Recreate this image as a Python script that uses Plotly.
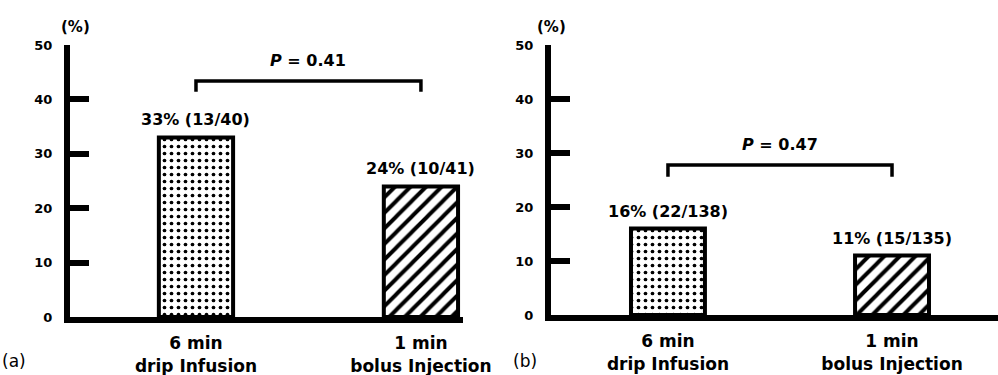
import plotly.graph_objects as go

# ---- data ----
categories = ["6 min<br>drip Infusion", "1 min<br>bolus Injection"]
rates_a = [33, 24]
labels_a = ["33% (13/40)", "24% (10/41)"]
p_text_a = "P = 0.41"
rates_b = [16, 11]
labels_b = ["16% (22/138)", "11% (15/135)"]
p_text_b = "P = 0.47"
y_ticks = [0, 10, 20, 30, 40, 50]
panel_tags = ["(a)", "(b)"]

FONT = "DejaVu Sans, Verdana, sans-serif"
W, H = 998, 375

fig = go.Figure()

patterns = [dict(shape=".", size=7, solidity=0.22, fgcolor="black", bgcolor="white", fgopacity=1),
            dict(shape="/", size=11, solidity=0.36, fgcolor="black", bgcolor="white", fgopacity=1)]

xpos = [0, 1]

for k, (rates, xa, ya) in enumerate([(rates_a, "x", "y"), (rates_b, "x2", "y2")]):
    for i in range(2):
        fig.add_trace(go.Bar(
            x=[xpos[i]], y=[rates[i]], xaxis=xa, yaxis=ya, width=0.33,
            marker=dict(color="white", line=dict(color="black", width=4),
                        pattern=patterns[i]),
            showlegend=False, hoverinfo="skip"))

axis_common_y = dict(range=[0, 50], tickvals=y_ticks, ticks="inside", ticklen=19,
                     tickwidth=6, tickcolor="black", showline=True, linewidth=6,
                     linecolor="black", showgrid=False, zeroline=False, automargin=False,
                     tickfont=dict(family=FONT, size=13, color="black", weight="bold"),
                     ticklabelstandoff=9)
axis_common_x = dict(tickvals=xpos, ticktext=categories, ticks="", showline=True,
                     linewidth=6, linecolor="black", showgrid=False, zeroline=False,
                     automargin=False,
                     tickfont=dict(family=FONT, size=17, color="black", weight="bold"),
                     ticklabelstandoff=6)

fig.update_layout(
    width=W, height=H, margin=dict(l=0, r=0, t=0, b=0),
    paper_bgcolor="white", plot_bgcolor="white",
    xaxis=dict(domain=[70 / W, 463 / W], range=[-0.56, 1.187], anchor="y", **axis_common_x),
    yaxis=dict(domain=[1 - 317 / H, 1 - 45 / H], anchor="x", **axis_common_y),
    xaxis2=dict(domain=[551 / W, 1.0], range=[-0.522, 1.473], anchor="y2", **axis_common_x),
    yaxis2=dict(domain=[1 - 315 / H, 1 - 45 / H], anchor="x2", **axis_common_y),
)

bold = dict(family=FONT, size=16, color="black", weight="bold")

# value labels
for (rates, labels, xa, ya) in [(rates_a, labels_a, "x", "y"), (rates_b, labels_b, "x2", "y2")]:
    for i in range(2):
        fig.add_annotation(x=xpos[i], y=rates[i], xref=xa, yref=ya, text=labels[i],
                           showarrow=False, xanchor="center", yanchor="bottom", yshift=6, font=bold)

# significance brackets
brackets = [("x", "y", 43.4, 41.4, p_text_a), ("x2", "y2", 27.8, 25.6, p_text_b)]
for xa, ya, ytop, yleg, ptxt in brackets:
    fig.add_shape(type="path", xref=xa, yref=ya,
                  path=f"M 0 {yleg} L 0 {ytop} L 1 {ytop} L 1 {yleg}",
                  line=dict(color="black", width=3.5))
    p, rest = ptxt.split(" ", 1)
    fig.add_annotation(x=0.5, y=ytop, xref=xa, yref=ya, text=f"<i>{p}</i> {rest}",
                       showarrow=False, xanchor="center", yanchor="bottom", yshift=9, font=bold)

# (%) unit labels
for xpx in [75, 551]:
    fig.add_annotation(x=xpx / W, y=1 - 27 / H, xref="paper", yref="paper", text="(%)",
                       showarrow=False, xanchor="center", yanchor="middle",
                       font=dict(family=FONT, size=15, color="black", weight="bold"))

# panel tags
for tag, xpx in zip(panel_tags, [0, 511]):
    fig.add_annotation(x=xpx / W, y=2 / H, xref="paper", yref="paper", text=tag,
                       showarrow=False, xanchor="left", yanchor="bottom",
                       font=dict(family=FONT, size=17, color="black"))

fig.write_html("out.html", config={"displayModeBar": False},
               post_script="document.body.style.margin='0px';document.body.style.overflow='hidden';")
